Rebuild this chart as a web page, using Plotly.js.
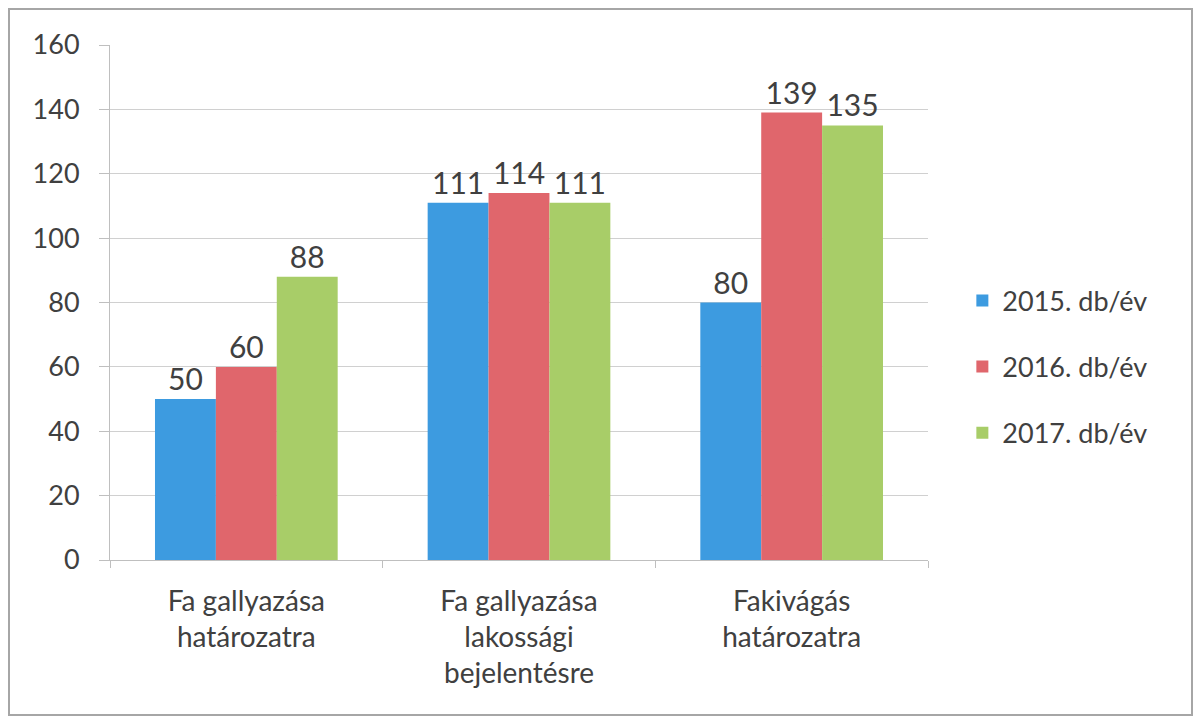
<!DOCTYPE html>
<html><head><meta charset="utf-8">
<script src="https://cdn.plot.ly/plotly-3.0.1.min.js"></script>
<style>
html,body{margin:0;padding:0;background:#fff;}
#wrap{position:relative;width:1203px;height:724px;}
#chart{position:absolute;left:0;top:0;width:1203px;height:724px;}
#frame{position:absolute;left:8px;top:8px;width:1185px;height:708px;border:2px solid #a6a6a6;box-sizing:border-box;pointer-events:none;}
</style></head>
<body>
<div id="wrap"><div id="chart"></div><div id="frame"></div></div>
<script>
const categories = ["Fa gallyazása<br>határozatra", "Fa gallyazása<br>lakossági<br>bejelentésre", "Fakivágás<br>határozatra"];
const seriesNames = ["2015. db/év", "2016. db/év", "2017. db/év"];
const values2015 = [50, 111, 80];
const values2016 = [60, 114, 139];
const values2017 = [88, 111, 135];
const colors = ["#3d9be0", "#e0666c", "#a8cd68"];
const allValues = [values2015, values2016, values2017];
const FONT = "Lato, 'Liberation Sans', sans-serif";
const TXT = "#404040";

const traces = allValues.map((vals, i) => ({
  type: "bar",
  name: seriesNames[i],
  x: categories,
  y: vals,
  marker: {color: colors[i]},
  text: vals.map(String),
  textposition: "outside",
  textfont: {family: FONT, size: 30, color: TXT},
  cliponaxis: false,
  legendgroup: "g" + i,
  hoverinfo: "none"
}));

const layout = {
  width: 1203, height: 724,
  margin: {l: 110, r: 275, t: 45, b: 164},
  paper_bgcolor: "#ffffff", plot_bgcolor: "#ffffff",
  barmode: "group",
  bargap: 0.33, bargroupgap: 0,
  font: {family: FONT, color: TXT},
  showlegend: true,
  legend: {x: 1.042, xanchor: "left", y: 0.375, yanchor: "middle",
           font: {family: FONT, size: 27, color: TXT}, tracegroupgap: 28,
           traceorder: "grouped", bgcolor: "rgba(0,0,0,0)"},
  xaxis: {
    type: "category",
    showline: true, linecolor: "#bfbfbf", linewidth: 1,
    ticks: "outside", tickson: "boundaries", ticklen: 7, tickcolor: "#bfbfbf",
    tickfont: {family: FONT, size: 28, color: TXT},
    ticklabelstandoff: 16,
    showgrid: false, zeroline: false, fixedrange: true
  },
  yaxis: {
    range: [0, 160], dtick: 20, tick0: 0,
    showline: true, linecolor: "#bfbfbf", linewidth: 1,
    ticks: "outside", ticklen: 10, tickcolor: "#bfbfbf",
    tickfont: {family: FONT, size: 27, color: TXT},
    ticklabelstandoff: 14,
    showgrid: true, gridcolor: "#d0d0d0", gridwidth: 1,
    zeroline: false, fixedrange: true
  }
};

Plotly.newPlot("chart", traces, layout, {displayModeBar: false, staticPlot: true});
</script>
</body></html>
